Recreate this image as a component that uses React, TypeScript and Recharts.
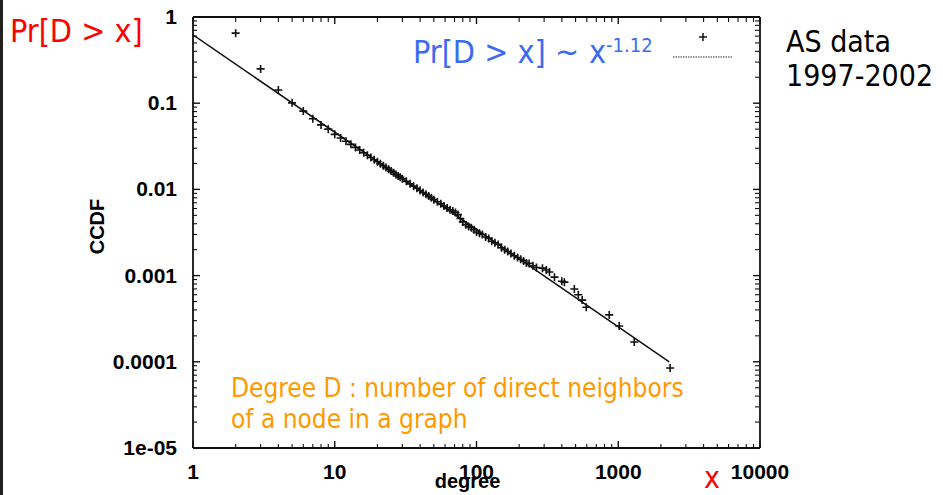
import React from 'react';
import { ScatterChart, Scatter, XAxis, YAxis } from 'recharts';

// AS degree CCDF
const degree = [
  2, 3, 4, 5, 6, 7, 8, 9, 10, 11, 12, 13, 14, 15, 16, 17, 18, 19, 20, 21, 22, 23, 24, 25, 26, 27, 28, 29, 30,
  32, 34, 36, 38, 40, 42, 44, 46, 48, 50, 53, 56, 59, 62, 65, 68, 71, 74, 77, 80, 84, 88, 92, 96, 100,
  105, 110, 116, 122, 128, 135, 142, 150, 158, 166, 175, 185, 195, 205, 215, 225, 235, 250, 265,
  292, 311, 327, 355, 400, 417, 490, 523, 557, 595, 864, 1016, 1297, 2323,
];
const ccdf = [
  0.65, 0.25, 0.142, 0.101, 0.081, 0.066, 0.056, 0.05, 0.0435, 0.0395, 0.0362, 0.0333, 0.0307, 0.0286, 0.0266,
  0.0249, 0.0234, 0.0221, 0.0209, 0.0198, 0.0188, 0.0179, 0.0171, 0.0163, 0.0156, 0.0149, 0.0143, 0.0138, 0.0133,
  0.0124, 0.0116, 0.0109, 0.0103, 0.0097, 0.0092, 0.0088, 0.0084, 0.008, 0.0076, 0.0072, 0.0068, 0.0064, 0.0061,
  0.0058, 0.0056, 0.0054, 0.0051, 0.0046, 0.0042, 0.0039, 0.0037, 0.0036, 0.0034, 0.0032,
  0.0031, 0.003, 0.0028, 0.0027, 0.0025, 0.0024, 0.0023, 0.0021, 0.002, 0.0019, 0.0018, 0.0017, 0.00162, 0.00155,
  0.00148, 0.0014, 0.00138, 0.0013, 0.00124,
  0.00122, 0.00116, 0.0011, 0.00096, 0.00086, 0.00084, 0.0007, 0.0006, 0.00052, 0.00043, 0.00035, 0.00026, 0.00017,
  0.0000847,
];

// fitted power law Pr[D > x] ~ x^-1.12
const fitDegree = [1, 2290];
const fitCcdf = [0.62, 0.0001];

const xTicks = [1, 10, 100, 1000, 10000];
const xTickLabels = ['1', '10', '100', '1000', '10000'];
const yTicks = [1e-5, 1e-4, 1e-3, 1e-2, 1e-1, 1];
const yTickLabels = ['1e-05', '0.0001', '0.001', '0.01', '0.1', '1'];
const minorSteps = [2, 3, 4, 5, 6, 7, 8, 9];

const xMinorTicks = [1, 10, 100, 1000].flatMap((d) => minorSteps.map((m) => m * d));
const yMinorTicks = [1e-5, 1e-4, 1e-3, 1e-2, 1e-1].flatMap((d) => minorSteps.map((m) => +(m * d).toPrecision(2)));

const points = degree.map((x, i) => ({ x, y: ccdf[i] }));
const fit = fitDegree.map((x, i) => ({ x, y: fitCcdf[i] }));

const X_DOMAIN = [1, 10000];
const Y_DOMAIN = [1e-5, 1];
const INK = '#111';
const AXIS_FONT = '"Liberation Sans", Arial, Helvetica, sans-serif';
const SLIDE_FONT = '"DejaVu Sans Condensed", "DejaVu Sans", sans-serif';

const labelFor = (ticks: number[], labels: string[], v: number) => {
  const i = ticks.findIndex((t) => Math.abs(t - v) / t < 1e-6);
  return i >= 0 ? labels[i] : String(v);
};

const XTick = (props: any) => (
  <text x={props.x} y={props.y} dy={14} textAnchor="middle" fontSize={21} fontWeight={700} fontFamily={AXIS_FONT} fill="#000">
    {labelFor(xTicks, xTickLabels, props.payload.value)}
  </text>
);

const YTick = (props: any) => (
  <text x={props.x} y={props.y} dy={7} textAnchor="end" fontSize={21} fontWeight={700} fontFamily={AXIS_FONT} fill="#000">
    {labelFor(yTicks, yTickLabels, props.payload.value)}
  </text>
);

const noLabel = () => <g />;

const Plus = (props: any) => {
  const { cx, cy } = props;
  if (cx == null || cy == null) return <g />;
  return (
    <path
      d={`M${cx - 4},${cy}H${cx + 4}M${cx},${cy - 4}V${cy + 4}`}
      stroke={INK}
      strokeWidth={1.6}
      fill="none"
    />
  );
};

const frameLine = { stroke: INK, strokeWidth: 1.8 };
const majorLine = { stroke: INK, strokeWidth: 1.4 };
const minorLine = { stroke: INK, strokeWidth: 1.1 };

const App: React.FC = () => {
  return (
    <div style={{ position: 'absolute', left: 0, top: 0, width: 943, height: 495, background: '#fff', overflow: 'hidden' }}>
      <div style={{ position: 'absolute', left: 0, top: 0, width: 3, height: 495, background: '#222' }} />
      <ScatterChart width={943} height={495} margin={{ top: 17, right: 183, bottom: 0, left: 0 }}>
        <XAxis
          dataKey="x"
          type="number"
          scale="log"
          domain={X_DOMAIN}
          allowDataOverflow
          ticks={xTicks}
          interval={0}
          tickLine={majorLine}
          tickSize={-7}
          tickMargin={24}
          height={47}
          stroke={INK}
          axisLine={frameLine}
          tick={XTick}
          label={{ value: 'degree', position: 'insideBottom', offset: 7, dx: -9, fill: '#000', fontSize: 20, fontWeight: 700, fontFamily: AXIS_FONT }}
        />
        <XAxis xAxisId="bMin" dataKey="x" type="number" scale="log" domain={X_DOMAIN} allowDataOverflow ticks={xMinorTicks} interval={0} mirror height={1} stroke={INK} tick={noLabel} tickSize={4} tickLine={minorLine} axisLine={false} />
        <XAxis xAxisId="tMaj" dataKey="x" orientation="top" type="number" scale="log" domain={X_DOMAIN} allowDataOverflow ticks={xTicks} interval={0} mirror height={1} stroke={INK} tick={noLabel} tickSize={7} tickLine={majorLine} axisLine={frameLine} />
        <XAxis xAxisId="tMin" dataKey="x" orientation="top" type="number" scale="log" domain={X_DOMAIN} allowDataOverflow ticks={xMinorTicks} interval={0} mirror height={1} stroke={INK} tick={noLabel} tickSize={4} tickLine={minorLine} axisLine={false} />
        <YAxis
          dataKey="y"
          type="number"
          scale="log"
          domain={Y_DOMAIN}
          allowDataOverflow
          ticks={yTicks}
          interval={0}
          tickLine={majorLine}
          tickSize={-7}
          tickMargin={23}
          width={193}
          stroke={INK}
          axisLine={frameLine}
          tick={YTick}
          label={{ value: 'CCDF', angle: -90, position: 'center', dy: -6, fill: '#000', fontSize: 20, fontWeight: 700, fontFamily: AXIS_FONT }}
        />
        <YAxis yAxisId="lMin" dataKey="y" type="number" scale="log" domain={Y_DOMAIN} allowDataOverflow ticks={yMinorTicks} interval={0} mirror width={1} stroke={INK} tick={noLabel} tickSize={4} tickLine={minorLine} axisLine={false} />
        <YAxis yAxisId="rMaj" dataKey="y" orientation="right" type="number" scale="log" domain={Y_DOMAIN} allowDataOverflow ticks={yTicks} interval={0} mirror width={1} stroke={INK} tick={noLabel} tickSize={7} tickLine={majorLine} axisLine={frameLine} />
        <YAxis yAxisId="rMin" dataKey="y" orientation="right" type="number" scale="log" domain={Y_DOMAIN} allowDataOverflow ticks={yMinorTicks} interval={0} mirror width={1} stroke={INK} tick={noLabel} tickSize={4} tickLine={minorLine} axisLine={false} />
        {/* invisible series so the frame axes get their scales */}
        <Scatter xAxisId="bMin" yAxisId="lMin" data={points} shape={noLabel} isAnimationActive={false} />
        <Scatter xAxisId="tMaj" yAxisId="rMaj" data={points} shape={noLabel} isAnimationActive={false} />
        <Scatter xAxisId="tMin" yAxisId="rMin" data={points} shape={noLabel} isAnimationActive={false} />
        <Scatter
          data={fit}
          line={{ stroke: INK, strokeWidth: 1.5 }}
          lineType="joint"
          shape={noLabel}
          isAnimationActive={false}
        />
        <Scatter data={points} shape={Plus} isAnimationActive={false} />
      </ScatterChart>
      <svg
        width={943}
        height={495}
        style={{ position: 'absolute', left: 0, top: 0, pointerEvents: 'none' }}
        fontFamily={SLIDE_FONT}
      >
        <text x={10} y={42} fontSize={32} fill="#ff0000" style={{ fontStretch: 'condensed' }}>Pr[D &gt; x]</text>
        <text y={63} fontSize={32} fill="#3b6cf0" style={{ fontStretch: 'condensed' }}>
          <tspan x={413}>Pr[D &gt; x]</tspan>
          <tspan x={555}>~</tspan>
          <tspan x={589}>x</tspan>
          <tspan fontSize={20} dy={-11}>-1.12</tspan>
        </text>
        <path d="M699,37H707M703,33V41" stroke={INK} strokeWidth={1.5} />
        <line x1={673} y1={57} x2={732} y2={57} stroke="#333" strokeWidth={1.2} strokeDasharray="1.5 1" />
        <text x={786} y={52} fontSize={30} fill="#000" style={{ fontStretch: 'condensed' }}>AS data</text>
        <text x={786} y={86} fontSize={30} fill="#000" style={{ fontStretch: 'condensed' }}>1997-2002</text>
        <text x={231} y={397} fontSize={26} fill="#ff9900" style={{ fontStretch: 'condensed' }}>Degree D : number of direct neighbors</text>
        <text x={231} y={428} fontSize={26} fill="#ff9900" style={{ fontStretch: 'condensed' }}>of a node in a graph</text>
        <text x={712} y={488} fontSize={30} fill="#ff0000" textAnchor="middle" style={{ fontStretch: 'condensed' }}>x</text>
      </svg>
    </div>
  );
};

export default App;
